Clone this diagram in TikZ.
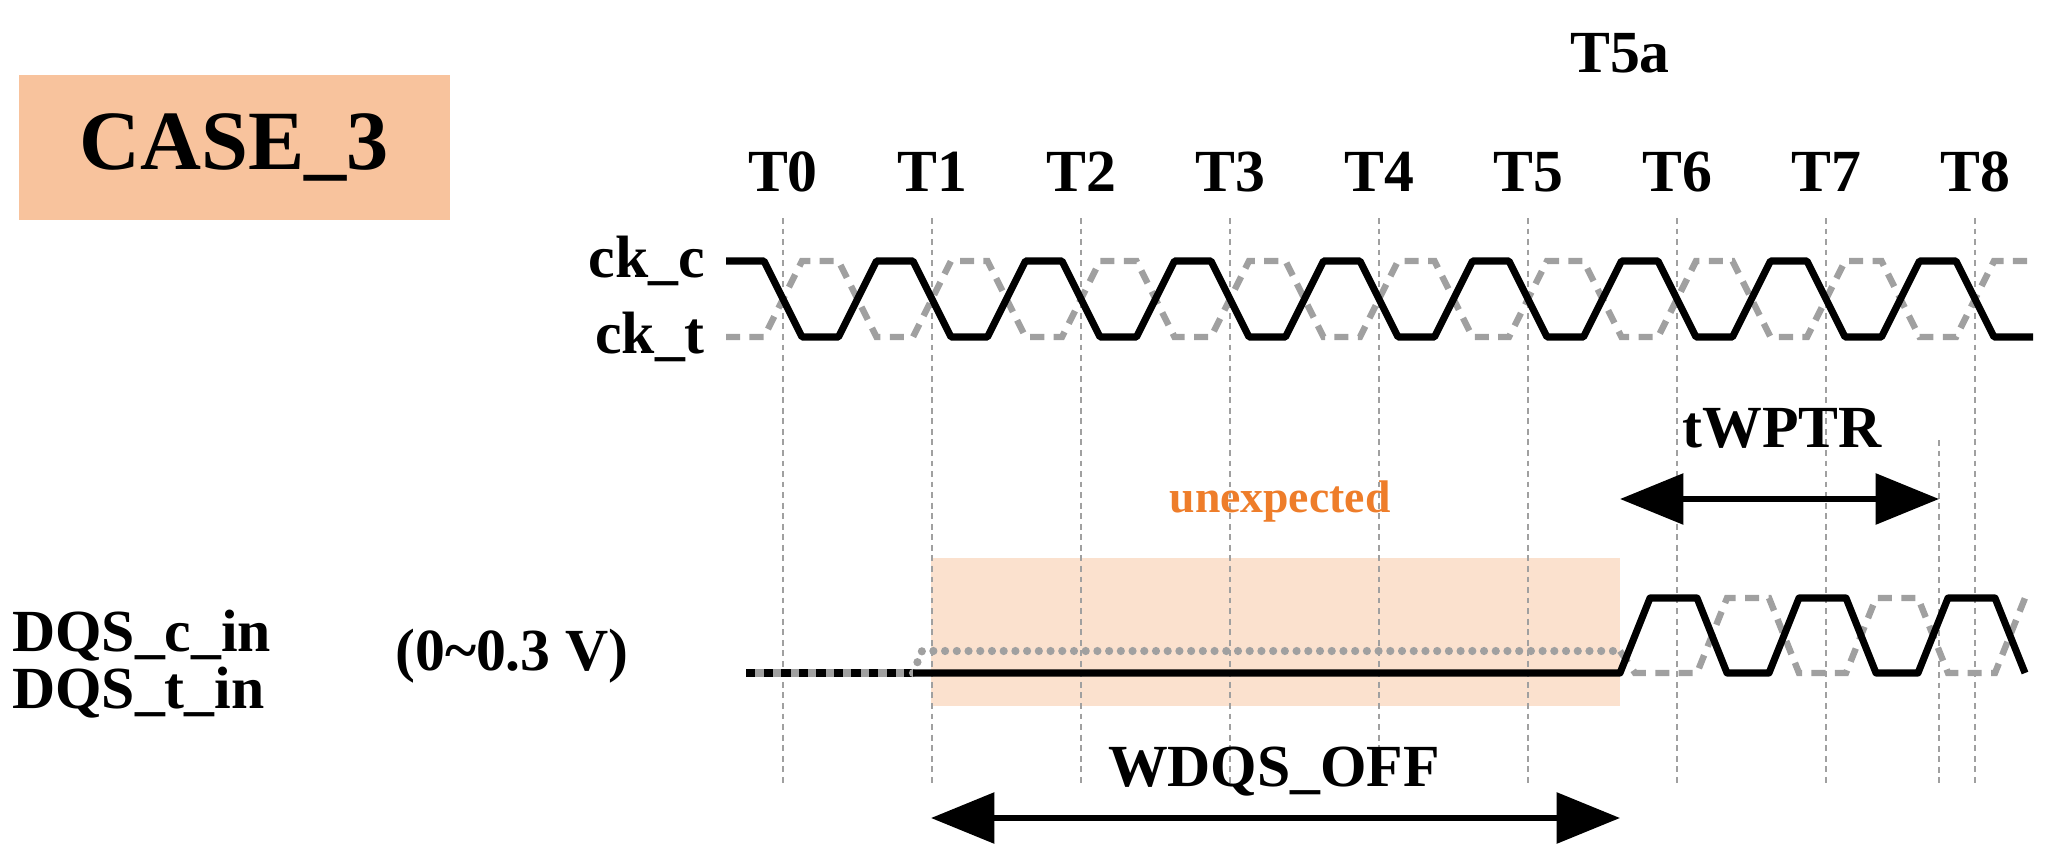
\documentclass[tikz,border=0pt]{standalone}
\usepackage{fontspec}
\setmainfont{Liberation Serif}
\usetikzlibrary{arrows.meta}
\definecolor{peach}{HTML}{F8C39D}
\definecolor{lpeach}{HTML}{FBE1CE}
\definecolor{orng}{HTML}{EE7D2A}
\definecolor{gr}{HTML}{A0A0A0}
\begin{document}
\begin{tikzpicture}[x=0.03cm,y=-0.03cm,
  lbl/.style={font=\fontsize{51}{58}\selectfont\bfseries,inner sep=0pt},
  sig/.style={line width=6pt,line join=round},
  cmp/.style={line width=5.5pt,gr,dash pattern=on 12pt off 8pt},
  grid/.style={gr,line width=1pt,dash pattern=on 5pt off 4pt},
  arr/.style={line width=5pt,{Triangle[length=1.9cm,width=1.5cm]}-{Triangle[length=1.9cm,width=1.5cm]}}]
\useasboundingbox (0,0) rectangle (2071,867);
\node[fill=peach,minimum width=431*0.03cm,minimum height=145*0.03cm,inner sep=0pt,font=\fontsize{72}{80}\selectfont\bfseries] (case) at (234,147) {CASE\_3};
\fill[lpeach] (931,558) rectangle (1620,706);
\foreach \k in {0,...,8}{
  \draw[grid] ({783+149*\k},218) -- ({783+149*\k},785);
  \node[lbl] (T\k) at ({783+149*\k},172) {T\k};
}
\draw[grid] (1939,440) -- (1939,785);
\node[lbl] (T5a) at (1620,53) {T5a};
\node[lbl,anchor=east] (ckc) at (705,261) {ck\_c};
\node[lbl,anchor=east] (ckt) at (705,337) {ck\_t};
\draw[cmp] (726,337) \foreach \k in {0,...,7}{ -- ({764+149*\k},337) -- ({802+149*\k},261) -- ({838.5+149*\k},261) -- ({876.5+149*\k},337)} -- (1956,337) -- (1994,261) -- (2033,261);
\draw[sig] (726,261) \foreach \k in {0,...,7}{ -- ({764+149*\k},261) -- ({802+149*\k},337) -- ({838.5+149*\k},337) -- ({876.5+149*\k},261)} -- (1956,261) -- (1994,337) -- (2033,337);
\node[lbl,anchor=west] (dqsc) at (12,636) {DQS\_c\_in};
\node[lbl,anchor=west] (dqst) at (12,693) {DQS\_t\_in};
\node[lbl,anchor=west] (volt) at (395,656) {(0\char`~0.3 V)};
\draw[sig,dash pattern=on 8pt off 7pt] (746,673) -- (913,673);
\draw[line width=6pt,gr,dash pattern=on 7pt off 8pt,dash phase=-8pt] (746,673) -- (913,673);
\draw[line width=7pt,gr,dash pattern=on 0pt off 10pt,line cap=round] (913,673) -- (922,651) -- (1620,651);
\draw[cmp] (1620,651) -- (1635,673) -- (1697,673) -- (1727,598) -- (1769,598) -- (1799,673) -- (1846,673) -- (1876,598) -- (1918,598) -- (1948,673) -- (1995,673) -- (2025,598) -- (2033,598);
\draw[sig] (913,673) -- (1620,673) -- (1650,598) -- (1697,598) -- (1727,673) -- (1769,673) -- (1799,598) -- (1846,598) -- (1876,673) -- (1918,673) -- (1948,598) -- (1995,598) -- (2025,673);
\node[font=\fontsize{39}{46}\selectfont\bfseries,text=orng] (unexp) at (1280,502) {unexpected};
\coordinate (wa) at (931,818); \coordinate (wb) at (1620,818);
\draw[arr] (wa) -- (wb);
\node[lbl] (wdqs) at (1274,772) {WDQS\_OFF};
\coordinate (ta) at (1620,499); \coordinate (tb) at (1939,499);
\draw[arr] (ta) -- (tb);
\node[lbl] (twptr) at (1782,428) {tWPTR};
\end{tikzpicture}
\end{document}
